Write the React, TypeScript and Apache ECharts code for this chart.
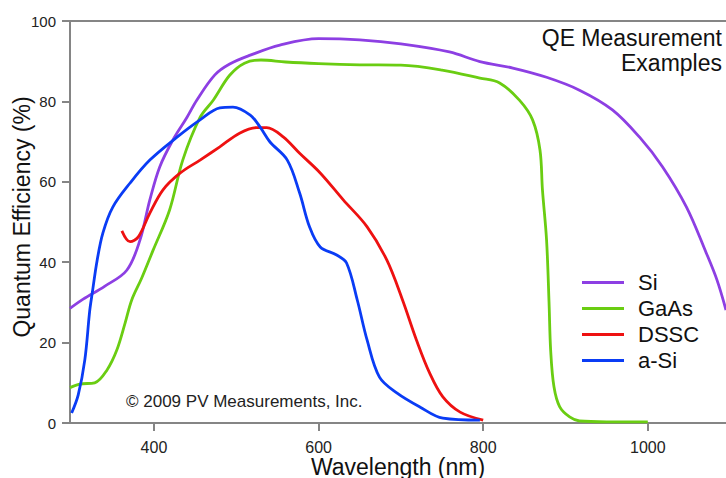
import React, { useEffect, useRef } from "react";
import * as echarts from "echarts";

const FONT = "'Liberation Sans', Arial, sans-serif";

const seriesNames = ["Si", "GaAs", "DSSC", "a-Si"];
const seriesColors = ["#8d3fe3", "#6acd12", "#ee1111", "#0a3cf5"];

const siWavelength = [298, 314, 340, 367, 383, 395, 407, 423, 440, 452, 474, 492, 517, 553, 600, 650, 700, 759, 796, 836, 877, 917, 957, 990, 1018, 1047, 1071, 1084, 1095];
const siQE = [28.5, 30.8, 34, 38, 45.5, 55.5, 63.7, 70.4, 76, 80.3, 86.6, 89.3, 91.5, 94, 95.6, 95.3, 94.3, 92.3, 89.9, 88.3, 86, 82.8, 77.9, 71.1, 63.7, 53.7, 42.3, 35.6, 28.1];

const gaasWavelength = [298, 310, 328, 343, 355, 365, 373, 385, 399, 419, 435, 456, 472, 492, 510, 530, 560, 600, 650, 700, 750, 796, 820, 844, 860, 869, 872, 877, 880, 882, 886, 893, 905, 917, 950, 1000];
const gaasQE = [8.8, 9.7, 10, 13.2, 18.2, 24.9, 30.6, 36, 43, 53, 65.4, 76, 80.3, 86.5, 89.5, 90.3, 89.8, 89.4, 89.1, 89, 87.8, 85.8, 84.6, 80.3, 75.4, 67.9, 58, 45.5, 30, 18, 9, 4, 1.5, 0.5, 0.3, 0.3];

const dsscWavelength = [361, 371, 381, 395, 411, 432, 456, 480, 504, 525, 537, 557, 577, 602, 630, 659, 683, 702, 719, 735, 751, 772, 800];
const dsscQE = [47.8, 45.1, 46.3, 52.2, 58, 62.2, 65.4, 68.7, 72.1, 73.5, 73.5, 71.2, 67.1, 62.2, 55.5, 48.8, 40.5, 30.6, 20.6, 12.4, 6.5, 2.7, 0.7];

const asiWavelength = [300, 308, 316, 322, 325, 331, 338, 350, 371, 395, 428, 456, 480, 496, 517, 529, 541, 562, 577, 589, 602, 622, 634, 647, 659, 674, 695, 723, 751, 796];
const asiQE = [2.5, 7, 15.7, 28, 32.3, 40.5, 47.3, 53.7, 59.7, 65.4, 71.1, 75.4, 78.4, 78.6, 76.6, 73.6, 69.9, 65.4, 57.2, 48.8, 43.8, 41.8, 39.8, 30.6, 20.6, 11.4, 7.5, 4, 1.2, 0.7];

const xTicks = [400, 600, 800, 1000];
const yTicks = [0, 20, 40, 60, 80, 100];

const pairs = (xs: number[], ys: number[]) => xs.map((x, i) => [x, ys[i]]);

export default function App() {
  const ref = useRef<HTMLDivElement>(null);
  useEffect(() => {
    if (!ref.current) return;
    const chart = echarts.init(ref.current, null, { renderer: "svg" });
    const data = [
      pairs(siWavelength, siQE),
      pairs(gaasWavelength, gaasQE),
      pairs(dsscWavelength, dsscQE),
      pairs(asiWavelength, asiQE),
    ];
    const axisLineStyle = { color: "#858585", width: 2 };
    chart.setOption({
      animation: false,
      grid: { left: 70, right: 0, top: 21, bottom: 55, containLabel: false, outerBoundsMode: "none" },
      xAxis: [
        {
          type: "value",
          min: 298,
          max: 1095,
          axisLine: { show: true, lineStyle: axisLineStyle },
          axisTick: { show: true, length: 8, lineStyle: axisLineStyle, customValues: xTicks },
          axisLabel: {
            fontFamily: FONT,
            fontSize: 16,
            lineHeight: 14,
            color: "#222",
            margin: 17,
            customValues: xTicks,
            formatter: (v: number) => String(v),
          },
          splitLine: { show: false },
        },
        {
          type: "value",
          position: "top",
          min: 298,
          max: 1095,
          axisLine: { show: true, lineStyle: axisLineStyle },
          axisTick: { show: false },
          axisLabel: { show: false },
          splitLine: { show: false },
        },
      ],
      yAxis: {
        type: "value",
        min: 0,
        max: 100,
        interval: 20,
        axisLine: { show: true, lineStyle: axisLineStyle },
        axisTick: { show: true, length: 8, lineStyle: axisLineStyle, customValues: yTicks },
        axisLabel: { fontFamily: FONT, fontSize: 15, color: "#222", margin: 14 },
        splitLine: { show: false },
      },
      legend: {
        orient: "vertical",
        left: 582,
        top: 270,
        padding: 0,
        itemGap: 1,
        itemWidth: 42,
        itemHeight: 3,
        icon: "rect",
        data: seriesNames,
        textStyle: { fontFamily: FONT, fontSize: 22, color: "#111", lineHeight: 25, padding: [0, 0, 0, 9] },
      },
      graphic: [
        {
          type: "text",
          x: 722,
          y: 25,
          style: {
            text: "QE Measurement\nExamples",
            fontFamily: FONT,
            fontSize: 23,
            lineHeight: 25,
            fill: "#111",
            textAlign: "right",
          },
        },
        {
          type: "text",
          x: 126,
          y: 401,
          style: {
            text: "© 2009 PV Measurements, Inc.",
            fontFamily: FONT,
            fontSize: 17,
            fill: "#222",
            verticalAlign: "middle",
          },
        },
        {
          type: "text",
          x: 398,
          y: 466.5,
          style: {
            text: "Wavelength (nm)",
            fontFamily: FONT,
            fontSize: 23,
            lineHeight: 23,
            fill: "#111",
            align: "center",
            verticalAlign: "middle",
          },
        },
        {
          type: "text",
          x: 22,
          y: 217,
          rotation: Math.PI / 2,
          style: {
            text: "Quantum Efficiency (%)",
            fontFamily: FONT,
            fontSize: 23,
            fill: "#111",
            align: "center",
            verticalAlign: "middle",
          },
        },
      ],
      series: seriesNames.map((name, i) => ({
        name,
        type: "line",
        data: data[i],
        smooth: 0.35,
        showSymbol: false,
        symbol: "none",
        clip: true,
        lineStyle: { color: seriesColors[i], width: 2.8 },
        itemStyle: { color: seriesColors[i] },
      })),
    });
    return () => chart.dispose();
  }, []);
  return <div ref={ref} style={{ width: 726, height: 478, position: "absolute", left: 0, top: 0 }} />;
}
